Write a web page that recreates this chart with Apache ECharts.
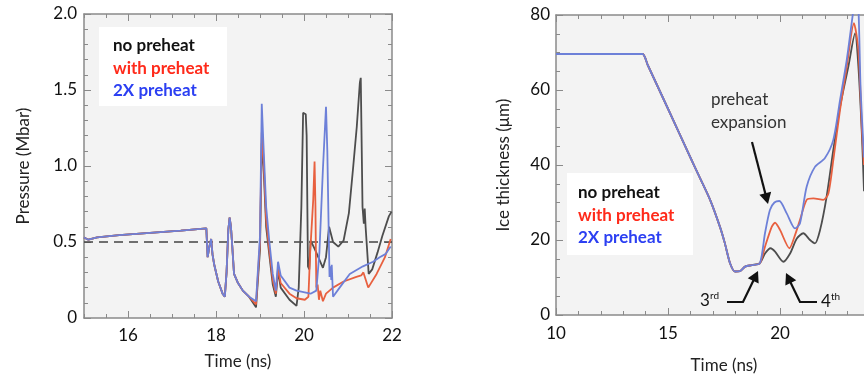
<!DOCTYPE html>
<html>
<head>
<meta charset="utf-8">
<script src="https://cdn.jsdelivr.net/npm/echarts@6/dist/echarts.min.js"></script>
<style>
html,body{margin:0;padding:0;background:#fff;}
#chart{width:864px;height:379px;}
</style>
</head>
<body>
<div id="chart"></div>
<script>
// ---------- Left panel: Pressure (Mbar) vs Time (ns) ----------
const pressureSharedTime  = [15.0,15.1,15.3,15.8,16.5,17.2,17.78,17.81,17.85,17.89,17.92,17.96,18.05,18.15,18.2,18.24,18.28,18.31,18.34,18.37,18.41,18.5,18.61,18.75];
const pressureSharedValue = [0.53,0.515,0.53,0.545,0.56,0.575,0.59,0.40,0.47,0.52,0.42,0.35,0.24,0.16,0.14,0.30,0.58,0.66,0.60,0.47,0.29,0.23,0.18,0.14];

const pressureNoPreheatTime  = [18.91,19.0,19.04,19.08,19.14,19.21,19.29,19.36,19.41,19.47,19.67,19.83,19.88,19.94,19.98,20.04,20.06,20.09,20.12,20.15,20.25,20.43,20.5,20.57,20.66,20.78,20.9,21.02,21.12,21.2,21.27,21.29,21.33,21.36,21.38,21.4,21.42,21.47,21.55,21.67,21.78,21.93,21.99];
const pressureNoPreheat      = [0.07,0.45,1.15,1.0,0.6,0.42,0.22,0.14,0.31,0.2,0.12,0.08,0.2,0.73,1.35,1.34,1.2,0.34,0.32,0.51,0.45,0.33,0.4,0.6,0.5,0.47,0.51,0.69,1.0,1.26,1.55,1.58,0.73,0.62,0.72,0.6,0.6,0.29,0.32,0.43,0.54,0.67,0.7];

const pressureWithPreheatTime = [18.91,19.0,19.04,19.08,19.14,19.21,19.29,19.36,19.41,19.47,19.67,19.83,20.02,20.1,20.14,20.21,20.24,20.26,20.27,20.28,20.31,20.34,20.37,20.43,20.5,20.66,20.9,21.19,21.3,21.35,21.46,21.65,21.84,21.97];
const pressureWithPreheat     = [0.09,0.5,1.22,1.05,0.65,0.45,0.25,0.16,0.33,0.23,0.16,0.13,0.12,0.14,0.43,0.78,1.03,0.74,0.43,0.2,0.22,0.12,0.18,0.11,0.16,0.2,0.24,0.27,0.28,0.3,0.2,0.29,0.4,0.52];

const pressure2xPreheatTime = [18.91,19.0,19.04,19.08,19.14,19.21,19.29,19.36,19.41,19.47,19.67,19.83,20.15,20.28,20.35,20.43,20.5,20.53,20.57,20.58,20.6,20.62,20.63,20.66,20.81,21.04,21.34,21.57,21.72,21.85,21.97];
const pressure2xPreheat     = [0.11,0.54,1.41,1.13,0.73,0.51,0.29,0.18,0.37,0.28,0.2,0.18,0.16,0.18,0.43,0.98,1.39,1.1,0.43,0.27,0.34,0.25,0.35,0.14,0.2,0.29,0.34,0.37,0.4,0.42,0.47];

const thresholdTime  = [15, 22];
const thresholdValue = [0.5, 0.5];

const pressureXTicks = [16, 18, 20, 22];

// ---------- Right panel: Ice thickness (µm) vs Time (ns) ----------
const iceSharedTime  = [10,13.6,13.87,14.1,15.0,16.0,16.43,16.88,17.32,17.54,17.77,17.99,18.21,18.44,18.74,19.1];
const iceSharedValue = [69.6,69.6,69.6,66.6,55.0,42.0,36.5,30.7,23.5,19.1,13.8,11.6,11.7,12.9,13.3,13.8];

const ice2xPreheatTime = [19.33,19.55,19.75,19.97,20.3,20.67,20.89,21.19,21.56,22.0,22.38,22.68,22.98,23.27,23.4,23.5,23.6,23.75];
const ice2xPreheat     = [21.8,28,30.0,30.4,27.1,23.1,24.4,34.2,39.5,41.8,46.7,57.3,68,81,86,82,60,42];

const iceWithPreheatTime = [19.33,19.63,19.78,20.0,20.42,20.67,20.89,21.19,21.49,21.93,22.16,22.38,22.68,22.98,23.3,23.5,23.65,23.75];
const iceWithPreheat     = [18.2,23.5,24.6,22.7,17.8,21.3,25.3,30.7,31.1,30.7,32.4,41.3,54.7,66.2,77.8,70.7,50.2,40];

const iceNoPreheatTime = [19.33,19.58,19.78,20.15,20.45,20.75,21.04,21.34,21.56,21.79,22.08,22.38,22.68,23.05,23.35,23.5,23.65,23.75];
const iceNoPreheat     = [16.4,17.8,16.9,14.2,16.4,20.4,21.8,20.0,19.1,22.7,31.5,44,55.5,66.2,75.1,66.2,48.9,33];

const legendLabels = ['no preheat', 'with preheat', '2X preheat'];
const annotationLines = ['preheat', 'expansion'];

// ---------- helpers ----------
const FONT = 'Lato, "Open Sans", sans-serif';
const C_BLACK = '#4d4d4d', C_RED = '#e8603f', C_BLUE = '#6d80d8';
const LEG_COLORS = ['#111111', '#ff2a1a', '#2b3ff2'];

function pairs(t1, v1, t2, v2) {
  const out = [];
  if (t1) t1.forEach((t, i) => out.push([t, v1[i]]));
  t2.forEach((t, i) => out.push([t, v2[i]]));
  return out;
}

const axisLineStyle = { show: true, lineStyle: { color: '#8a8a8a', width: 1.5 } };
const labelStyle = { fontFamily: FONT, fontSize: 17, color: '#111' };
const nameStyle = { fontFamily: FONT, fontSize: 17, color: '#222' };

function lineSeries(name, data, color, xi, yi, smooth) {
  return {
    name, type: 'line', data, xAxisIndex: xi, yAxisIndex: yi,
    showSymbol: false, symbol: 'none', smooth: smooth || false,
    lineStyle: { color, width: 1.8 }, itemStyle: { color },
    emphasis: { disabled: true }, animation: false, clip: true
  };
}

const chart = echarts.init(document.getElementById('chart'), null, { renderer: 'canvas' });

const option = {
  animation: false,
  backgroundColor: '#ffffff',
  textStyle: { fontFamily: FONT },
  grid: [
    { left: 84, top: 14, width: 308, height: 304, show: true, backgroundColor: '#f3f3f3', borderWidth: 0,
      containLabel: false, outerBoundsMode: 'none' },
    { left: 556, top: 15, width: 336, height: 300, show: true, backgroundColor: '#f3f3f3', borderWidth: 0,
      containLabel: false, outerBoundsMode: 'none' }
  ],
  xAxis: [
    { gridIndex: 0, type: 'value', min: 15, max: 22, interval: 0.5, position: 'bottom',
      axisLine: axisLineStyle, axisTick: { inside: true, length: 4, lineStyle: { color: '#8a8a8a' } },
      axisLabel: Object.assign({ margin: 9, formatter: v => (pressureXTicks.indexOf(v) >= 0 ? String(v) : '') }, labelStyle),
      splitLine: { show: false },
      name: 'Time (ns)', nameLocation: 'middle', nameGap: 35, nameTextStyle: nameStyle },
    { gridIndex: 0, type: 'value', min: 15, max: 22, position: 'bottom',
      axisLine: { show: false }, axisTick: { inside: true, length: 7, customValues: pressureXTicks, lineStyle: { color: '#8a8a8a' } },
      axisLabel: { show: false }, splitLine: { show: false } },
    { gridIndex: 0, type: 'value', min: 15, max: 22, interval: 0.5, position: 'top',
      axisLine: axisLineStyle, axisTick: { inside: true, length: 4, lineStyle: { color: '#8a8a8a' } },
      axisLabel: { show: false }, splitLine: { show: false } },
    { gridIndex: 0, type: 'value', min: 15, max: 22, position: 'top',
      axisLine: { show: false }, axisTick: { inside: true, length: 7, customValues: pressureXTicks, lineStyle: { color: '#8a8a8a' } },
      axisLabel: { show: false }, splitLine: { show: false } },
    { gridIndex: 1, type: 'value', min: 10, max: 25, interval: 5, position: 'bottom',
      axisLine: axisLineStyle, axisTick: { inside: true, length: 7, lineStyle: { color: '#8a8a8a' } },
      minorTick: { show: true, splitNumber: 5, length: 4, lineStyle: { color: '#8a8a8a' } },
      axisLabel: Object.assign({ margin: 10 }, labelStyle), splitLine: { show: false }, minorSplitLine: { show: false },
      name: 'Time (ns)', nameLocation: 'middle', nameGap: 42, nameTextStyle: nameStyle },
    { gridIndex: 1, type: 'value', min: 10, max: 25, interval: 5, position: 'top',
      axisLine: axisLineStyle, axisTick: { inside: true, length: 7, lineStyle: { color: '#8a8a8a' } },
      minorTick: { show: true, splitNumber: 5, length: 4, lineStyle: { color: '#8a8a8a' } },
      axisLabel: { show: false }, splitLine: { show: false }, minorSplitLine: { show: false } }
  ],
  yAxis: [
    { gridIndex: 0, type: 'value', min: 0, max: 2, interval: 0.5, position: 'left',
      axisLine: axisLineStyle, axisTick: { inside: true, length: 7, lineStyle: { color: '#8a8a8a' } },
      minorTick: { show: true, splitNumber: 5, length: 4, lineStyle: { color: '#8a8a8a' } },
      axisLabel: Object.assign({ margin: 7, formatter: v => (v === 0 ? '0' : v.toFixed(1)) }, labelStyle),
      splitLine: { show: false }, minorSplitLine: { show: false },
      name: 'Pressure (Mbar)', nameLocation: 'middle', nameGap: 52, nameTextStyle: nameStyle },
    { gridIndex: 0, type: 'value', min: 0, max: 2, interval: 0.5, position: 'right',
      axisLine: axisLineStyle, axisTick: { inside: true, length: 7, lineStyle: { color: '#8a8a8a' } },
      minorTick: { show: true, splitNumber: 5, length: 4, lineStyle: { color: '#8a8a8a' } },
      axisLabel: { show: false }, splitLine: { show: false }, minorSplitLine: { show: false } },
    { gridIndex: 1, type: 'value', min: 0, max: 80, interval: 20, position: 'left',
      axisLine: axisLineStyle, axisTick: { inside: true, length: 7, lineStyle: { color: '#8a8a8a' } },
      minorTick: { show: true, splitNumber: 4, length: 4, lineStyle: { color: '#8a8a8a' } },
      axisLabel: Object.assign({ margin: 6 }, labelStyle),
      splitLine: { show: false }, minorSplitLine: { show: false },
      name: 'Ice thickness (μm)', nameLocation: 'middle', nameGap: 44, nameTextStyle: nameStyle }
  ],
  series: [
    Object.assign(lineSeries('threshold', pairs(null, null, thresholdTime, thresholdValue), '#444', 0, 0), {
      lineStyle: { color: '#444', width: 1.6, type: [9, 6] }, z: 1 }),
    lineSeries(legendLabels[0], pairs(pressureSharedTime, pressureSharedValue, pressureNoPreheatTime, pressureNoPreheat), C_BLACK, 0, 0),
    lineSeries(legendLabels[1], pairs(pressureSharedTime, pressureSharedValue, pressureWithPreheatTime, pressureWithPreheat), C_RED, 0, 0),
    lineSeries(legendLabels[2], pairs(pressureSharedTime, pressureSharedValue, pressure2xPreheatTime, pressure2xPreheat), C_BLUE, 0, 0),
    lineSeries(legendLabels[0] + ' ice', pairs(iceSharedTime, iceSharedValue, iceNoPreheatTime, iceNoPreheat), C_BLACK, 4, 2, 0.25),
    lineSeries(legendLabels[1] + ' ice', pairs(iceSharedTime, iceSharedValue, iceWithPreheatTime, iceWithPreheat), C_RED, 4, 2, 0.25),
    lineSeries(legendLabels[2] + ' ice', pairs(iceSharedTime, iceSharedValue, ice2xPreheatTime, ice2xPreheat), C_BLUE, 4, 2, 0.25)
  ]
};
chart.setOption(option);

// ---------- annotations (legend boxes, labels, arrows) ----------
function legendBox(x, y, w, h, textX, firstY, step) {
  const els = [{ type: 'rect', shape: { x, y, width: w, height: h }, style: { fill: '#ffffff' }, z: 50 }];
  legendLabels.forEach((lab, i) => {
    els.push({ type: 'text', x: textX, y: firstY + i * step, z: 51,
      style: { text: lab, fill: LEG_COLORS[i], font: 'bold 17px ' + FONT, verticalAlign: 'middle', align: 'left' } });
  });
  return els;
}
function arrow(points, headLen) {
  const n = points.length;
  const [x1, y1] = points[n - 2], [x2, y2] = points[n - 1];
  const a = Math.atan2(y2 - y1, x2 - x1);
  const w = headLen * 0.55;
  const bx = x2 - headLen * Math.cos(a), by = y2 - headLen * Math.sin(a);
  const head = [[x2, y2], [bx + w * Math.sin(a), by - w * Math.cos(a)], [bx - w * Math.sin(a), by + w * Math.cos(a)]];
  const shaft = points.slice(0, n - 1).concat([[x2 - (headLen * 0.7) * Math.cos(a), y2 - (headLen * 0.7) * Math.sin(a)]]);
  return [
    { type: 'polyline', shape: { points: shaft }, style: { stroke: '#111', lineWidth: 2.2, fill: null }, z: 60 },
    { type: 'polygon', shape: { points: head }, style: { fill: '#111' }, z: 60 }
  ];
}
const graphics = []
  .concat(legendBox(99, 27, 128, 79, 113, 46, 22.5))
  .concat(legendBox(567, 173, 126, 82, 578, 193, 22.5))
  .concat([
    { type: 'text', x: 711, y: 100, z: 61, style: { text: annotationLines[0], fill: '#333', font: '17px ' + FONT, verticalAlign: 'middle' } },
    { type: 'text', x: 711, y: 123, z: 61, style: { text: annotationLines[1], fill: '#333', font: '17px ' + FONT, verticalAlign: 'middle' } },
    { type: 'text', x: 700, y: 301, z: 61, style: { text: '3', fill: '#111', font: '17px ' + FONT, verticalAlign: 'middle' } },
    { type: 'text', x: 710, y: 296, z: 61, style: { text: 'rd', fill: '#111', font: '10px ' + FONT, verticalAlign: 'middle' } },
    { type: 'text', x: 821, y: 302, z: 61, style: { text: '4', fill: '#111', font: '17px ' + FONT, verticalAlign: 'middle' } },
    { type: 'text', x: 831, y: 297, z: 61, style: { text: 'th', fill: '#111', font: '10px ' + FONT, verticalAlign: 'middle' } }
  ])
  .concat(arrow([[752, 142], [768, 204]], 11))
  .concat(arrow([[727, 302], [743, 302], [758, 271]], 11))
  .concat(arrow([[817, 302], [800, 302], [786, 273]], 11));
chart.setOption({ graphic: graphics });
</script>
</body>
</html>
